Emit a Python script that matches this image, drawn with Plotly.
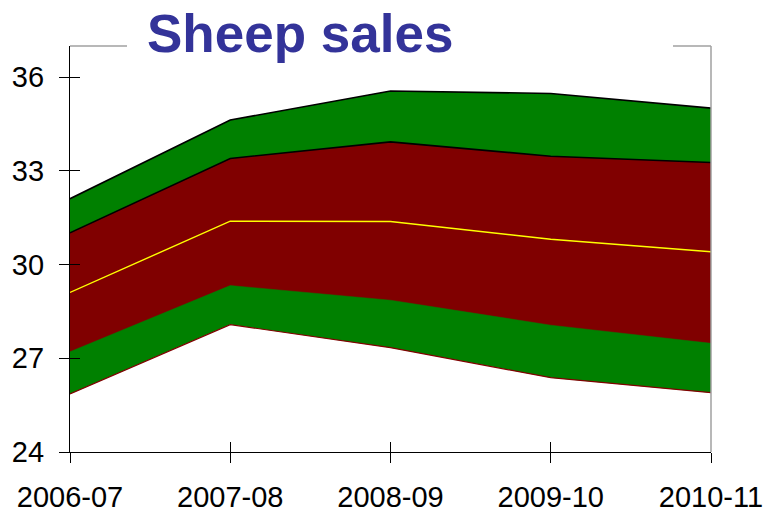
import plotly.graph_objects as go

categories = ["2006-07", "2007-08", "2008-09", "2009-10", "2010-11"]
outer_low = [25.86, 28.08, 27.34, 26.38, 25.90]
inner_low = [27.21, 29.33, 28.86, 28.06, 27.48]
middle = [29.11, 31.39, 31.38, 30.81, 30.41]
inner_high = [31.02, 33.40, 33.93, 33.47, 33.27]
outer_high = [32.11, 34.63, 35.56, 35.48, 35.01]
y_ticks = [24, 27, 30, 33, 36]

GREEN = "#008000"
DARKRED = "#800000"
FONT = "Liberation Sans, Arial, sans-serif"

fig = go.Figure()
fig.add_trace(go.Scatter(x=categories, y=outer_low, mode="lines",
                         line=dict(color=DARKRED, width=1.2), hoverinfo="skip"))
fig.add_trace(go.Scatter(x=categories, y=outer_high, mode="lines", fill="tonexty",
                         fillcolor=GREEN, line=dict(color="black", width=1.6), hoverinfo="skip"))
fig.add_trace(go.Scatter(x=categories, y=inner_low, mode="lines",
                         line=dict(color=GREEN, width=0.5), hoverinfo="skip"))
fig.add_trace(go.Scatter(x=categories, y=inner_high, mode="lines", fill="tonexty",
                         fillcolor=DARKRED, line=dict(color="black", width=1.6), hoverinfo="skip"))
fig.add_trace(go.Scatter(x=categories, y=middle, mode="lines",
                         line=dict(color="#FFFF00", width=1.4), hoverinfo="skip"))

W, H = 765, 511
L, R, T, B = 70, 54, 46, 59

fig.update_layout(
    width=W, height=H,
    margin=dict(l=L, r=R, t=T, b=B, pad=0, autoexpand=False),
    paper_bgcolor="white", plot_bgcolor="white",
    showlegend=False,
    font=dict(family=FONT, color="black", size=29),
    title=dict(text="<b>Sheep sales</b>", font=dict(family=FONT, size=53, color="#333399"),
               xref="container", x=147 / W, xanchor="left",
               yref="container", y=1 - 33 / H, yanchor="middle", automargin=False),
    xaxis=dict(type="category", categoryorder="array", categoryarray=categories,
               range=[0, len(categories) - 1], showgrid=False, zeroline=False,
               showline=True, linecolor="black", linewidth=1.3, automargin=False,
               ticks="outside", ticklen=10, tickwidth=1.3, tickcolor="black",
               tickfont=dict(size=29, family=FONT), ticklabelstandoff=9),
    yaxis=dict(range=[24, 37], tickvals=y_ticks, showgrid=False, zeroline=False,
               showline=True, linecolor="black", linewidth=1.3, automargin=False,
               ticks="outside", ticklen=10, tickwidth=1.3, tickcolor="black",
               tickfont=dict(size=29, family=FONT), ticklabelstandoff=9),
    xaxis2=dict(overlaying="x", anchor="y", range=[0, len(categories) - 1], dtick=1,
                showgrid=False, zeroline=False, showline=False, showticklabels=False,
                ticks="inside", ticklen=10, tickwidth=1.3, tickcolor="black", side="bottom",
                automargin=False),
    yaxis2=dict(overlaying="y", anchor="x", range=[24, 37], tickvals=y_ticks,
                showgrid=False, zeroline=False, showline=False, showticklabels=False,
                ticks="inside", ticklen=10, tickwidth=1.3, tickcolor="black", side="left",
                automargin=False),
)

# invisible helper trace so the overlay axes are drawn
fig.add_trace(go.Scatter(x=[0], y=[24], xaxis="x2", yaxis="y2", mode="markers",
                         marker=dict(opacity=0), hoverinfo="skip", showlegend=False))

plot_w = W - L - R
gap_left = (127 - L) / plot_w
gap_right = (673 - L) / plot_w
frame = dict(type="line", xref="paper", yref="paper", line=dict(color="#A0A0A0", width=1.5))
fig.add_shape(**frame, x0=0, x1=gap_left, y0=1, y1=1)
fig.add_shape(**frame, x0=gap_right, x1=1, y0=1, y1=1)
fig.add_shape(**frame, x0=1, x1=1, y0=0, y1=1)

fig.write_html("out.html", config={"displayModeBar": False},
               post_script="document.body.style.margin='0';document.body.style.overflow='hidden';")
